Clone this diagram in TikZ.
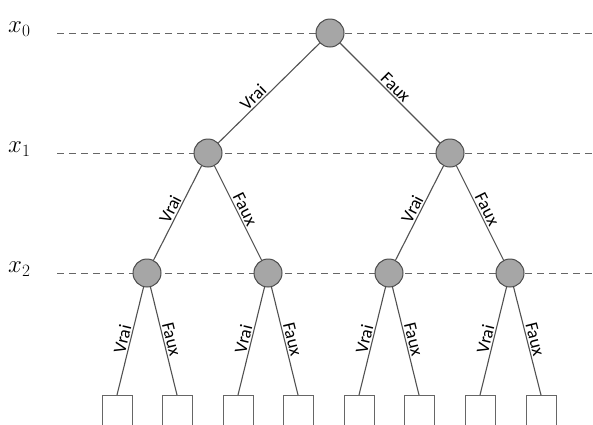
\documentclass[tikz,border=0pt]{standalone}
\usepackage{fontspec}
\setsansfont{Carlito}
\begin{document}
\begin{tikzpicture}[x=1pt,y=-1pt,
  inner/.style={circle,draw=black!70,fill=black!35,line width=1pt,minimum size=28pt,inner sep=0pt},
  leaf/.style={rectangle,draw=black!60,line width=1pt,minimum width=30pt,minimum height=40pt,inner sep=0pt,anchor=north},
  edge/.style={draw=black!68,line width=1.1pt},
  lvl/.style={draw=black!60,dashed,dash pattern=on 7pt off 5pt,line width=1pt},
  lab/.style={font=\sffamily\fontsize{18}{18}\selectfont,sloped,above,inner sep=1.5pt},
  xl/.style={font=\fontsize{26}{26}\selectfont,anchor=west,inner sep=0pt}]
\useasboundingbox (0,0) rectangle (593,424);
\clip (0,0) rectangle (593,424);
% level labels
\node[xl] (x0) at (8,29) {$x_0$};
\node[xl] (x1) at (8,149) {$x_1$};
\node[xl] (x2) at (8,269) {$x_2$};
\coordinate (e0) at (593,33);
\coordinate (e1) at (593,153);
\coordinate (e2) at (593,273);
\coordinate (s0) at (57,33);
\coordinate (s1) at (57,153);
\coordinate (s2) at (57,273);
\draw[lvl] (s0) -- (e0);
\draw[lvl] (s1) -- (e1);
\draw[lvl] (s2) -- (e2);
% nodes
\node[inner] (r) at (330,33) {};
\node[inner] (a) at (208,153) {};
\node[inner] (b) at (450,153) {};
\node[inner] (aa) at (147,273) {};
\node[inner] (ab) at (268,273) {};
\node[inner] (ba) at (389,273) {};
\node[inner] (bb) at (510,273) {};
\foreach \n/\x in {l1/117,l2/177,l3/238,l4/298,l5/359,l6/419,l7/480,l8/541}
  \node[leaf] (\n) at (\x,395) {};
% edges
\draw[edge] (r) -- node[lab,pos=0.6] {Vrai} (a);
\draw[edge] (r) -- node[lab,pos=0.5] {Faux} (b);
\draw[edge] (a) -- node[lab,pos=0.5] {Vrai} (aa);
\draw[edge] (a) -- node[lab,pos=0.5] {Faux} (ab);
\draw[edge] (b) -- node[lab,pos=0.5] {Vrai} (ba);
\draw[edge] (b) -- node[lab,pos=0.5] {Faux} (bb);
\draw[edge] (aa) -- node[lab,pos=0.5] {Vrai} (l1.north);
\draw[edge] (aa) -- node[lab,pos=0.5] {Faux} (l2.north);
\draw[edge] (ab) -- node[lab,pos=0.5] {Vrai} (l3.north);
\draw[edge] (ab) -- node[lab,pos=0.5] {Faux} (l4.north);
\draw[edge] (ba) -- node[lab,pos=0.5] {Vrai} (l5.north);
\draw[edge] (ba) -- node[lab,pos=0.5] {Faux} (l6.north);
\draw[edge] (bb) -- node[lab,pos=0.5] {Vrai} (l7.north);
\draw[edge] (bb) -- node[lab,pos=0.5] {Faux} (l8.north);
\end{tikzpicture}
\end{document}
